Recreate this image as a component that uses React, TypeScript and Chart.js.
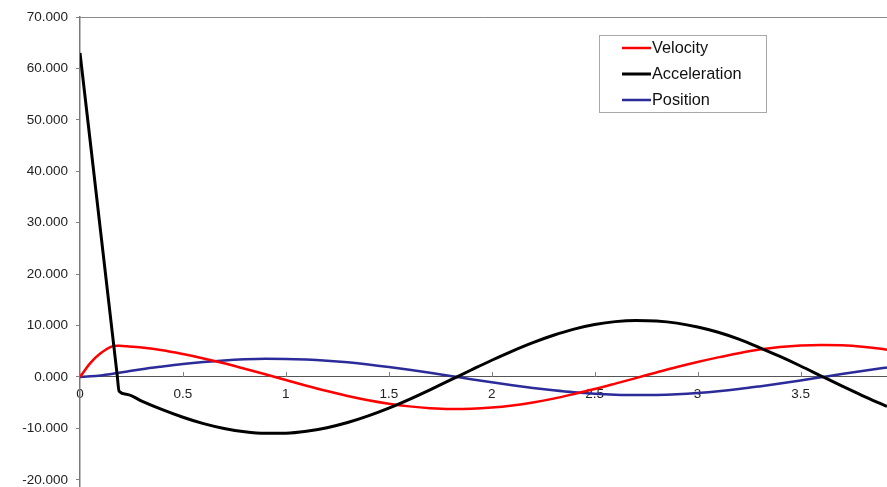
import React, { useEffect, useRef } from "react";
import { Chart, registerables } from "chart.js";

Chart.register(...registerables);

const times = [0, 0.05, 0.1, 0.16, 0.18, 0.19, 0.23, 0.3, 0.4, 0.5, 0.6, 0.7, 0.8, 0.9, 1.0, 1.1, 1.2, 1.3, 1.4, 1.5, 1.6, 1.7, 1.8, 1.9, 2.0, 2.1, 2.2, 2.3, 2.4, 2.5, 2.6, 2.7, 2.8, 2.9, 3.0, 3.1, 3.2, 3.3, 3.4, 3.5, 3.6, 3.7, 3.8, 3.9, 3.92];

const velocity = [0, 2.7, 4.6, 6.0, 6.08, 6.05, 5.95, 5.72, 5.2, 4.45, 3.6, 2.65, 1.6, 0.52, -0.6, -1.7, -2.74, -3.69, -4.52, -5.2, -5.72, -6.07, -6.22, -6.18, -5.95, -5.54, -4.95, -4.21, -3.31, -2.35, -1.3, -0.22, 0.88, 1.94, 2.91, 3.81, 4.63, 5.32, 5.81, 6.11, 6.23, 6.15, 5.88, 5.43, 5.31];

const acceleration = [63, 45.7, 28.3, 7.5, 0.6, -2.8, -3.4, -4.7, -6.37, -7.84, -9.08, -10.02, -10.67, -10.97, -10.94, -10.56, -9.86, -8.86, -7.57, -6.06, -4.35, -2.5, -0.58, 1.35, 3.25, 5.04, 6.68, 8.11, 9.31, 10.19, 10.76, 10.99, 10.89, 10.47, 9.72, 8.7, 7.36, 5.72, 3.98, 2.13, 0.19, -1.74, -3.62, -5.39, -5.74];

const position = [0, 0.12, 0.3, 0.62, 0.74, 0.8, 1.05, 1.51, 2.04, 2.52, 2.91, 3.22, 3.42, 3.52, 3.51, 3.39, 3.16, 2.84, 2.43, 1.94, 1.39, 0.8, 0.19, -0.43, -1.04, -1.62, -2.14, -2.6, -2.99, -3.27, -3.45, -3.53, -3.5, -3.36, -3.12, -2.79, -2.36, -1.84, -1.28, -0.68, -0.06, 0.56, 1.16, 1.73, 1.85];

const seriesNames = ["Velocity", "Acceleration", "Position"];
const seriesColors = ["#ff0000", "#000000", "#2b2b99"];
const seriesWidths = [2.5, 3, 2.5];

const yTickValues = [-20, -10, 0, 10, 20, 30, 40, 50, 60, 70];
const xTickValues = [0, 0.5, 1, 1.5, 2, 2.5, 3, 3.5];

const FONT = "'Liberation Sans', Arial, Helvetica, sans-serif";

export default function App() {
  const ref = useRef<HTMLCanvasElement>(null);

  useEffect(() => {
    if (!ref.current) return;
    const seriesValues = [velocity, acceleration, position];
    const datasets = seriesValues.map((vals, i) => ({
      label: seriesNames[i],
      data: times.map((t, k) => ({ x: t, y: vals[k] })),
      borderColor: seriesColors[i],
      backgroundColor: seriesColors[i],
      borderWidth: seriesWidths[i],
      pointRadius: 0,
      cubicInterpolationMode: "monotone" as const,
      fill: false,
      order: i === 1 ? 0 : 1,
    }));

    const framePlugin = {
      id: "frame",
      afterDraw(chart: any) {
        const { ctx, chartArea: a } = chart;
        const xs = chart.scales.x;
        const ys = chart.scales.y;
        ctx.save();
        ctx.strokeStyle = "#8a8a8a";
        ctx.lineWidth = 1;
        ctx.beginPath();
        ctx.moveTo(a.left, Math.round(a.top) + 0.5);
        ctx.lineTo(a.right, Math.round(a.top) + 0.5);
        ctx.stroke();
        const y0 = ys.getPixelForValue(0);
        ctx.strokeStyle = "#808080";
        ctx.beginPath();
        for (const v of xTickValues) {
          if (v === 0) continue;
          const px = Math.round(xs.getPixelForValue(v)) + 0.5;
          ctx.moveTo(px, y0 - 5);
          ctx.lineTo(px, y0);
        }
        ctx.stroke();

        const bx = 599.5, by = 35.5, bw = 167, bh = 77;
        ctx.fillStyle = "#ffffff";
        ctx.fillRect(bx, by, bw, bh);
        ctx.strokeStyle = "#a8a8a8";
        ctx.lineWidth = 1;
        ctx.strokeRect(bx, by, bw, bh);
        ctx.font = `16.3px ${FONT}`;
        ctx.textBaseline = "middle";
        ctx.textAlign = "left";
        chart.data.datasets.forEach((ds: any, i: number) => {
          const ry = 48 + 26 * i;
          ctx.strokeStyle = ds.borderColor;
          ctx.lineWidth = ds.borderWidth;
          ctx.beginPath();
          ctx.moveTo(622, ry);
          ctx.lineTo(651, ry);
          ctx.stroke();
          ctx.fillStyle = "#111";
          ctx.fillText(ds.label, 652, ry + 1);
        });
        ctx.restore();
      },
    };

    const chart = new Chart(ref.current, {
      type: "line",
      data: { datasets },
      options: {
        animation: false,
        responsive: true,
        maintainAspectRatio: false,
        layout: { padding: { top: 17, left: 0, right: 0, bottom: 0 } },
        plugins: {
          legend: { display: false },
          tooltip: { enabled: false },
        },
        scales: {
          x: {
            type: "linear",
            min: 0,
            max: 3.92,
            position: { y: 0 } as any,
            afterBuildTicks: (s: any) => {
              s.ticks = xTickValues.map((v) => ({ value: v }));
            },
            afterFit: (s: any) => {
              s.height = 0;
              s.paddingLeft = 0;
              s.paddingRight = 0;
            },
            grid: { display: false, drawTicks: false, tickLength: 0 },
            border: { display: true, color: "#555555", width: 1 },
            ticks: {
              autoSkip: false,
              maxRotation: 0,
              padding: 9,
              color: "#222",
              font: { family: FONT, size: 13.5 },
              callback: (v: any) => String(v),
            },
          },
          y: {
            type: "linear",
            min: -21.4,
            max: 70,
            afterBuildTicks: (s: any) => {
              s.ticks = yTickValues.map((v) => ({ value: v }));
            },
            afterFit: (s: any) => {
              s.width = 80;
              s.paddingTop = 0;
              s.paddingBottom = 0;
            },
            grid: {
              drawOnChartArea: false,
              drawTicks: true,
              tickLength: 4,
              color: "#808080",
            },
            border: { display: true, color: "#7a7a7a", width: 1.5 },
            ticks: {
              padding: 8,
              color: "#222",
              font: { family: FONT, size: 13.5 },
              callback: (v: any) => Number(v).toFixed(3),
            },
          },
        },
      },
      plugins: [framePlugin],
    });

    return () => chart.destroy();
  }, []);

  return (
    <div style={{ position: "fixed", left: 0, top: 0, width: 887, height: 487, background: "#fff" }}>
      <canvas ref={ref} />
    </div>
  );
}
